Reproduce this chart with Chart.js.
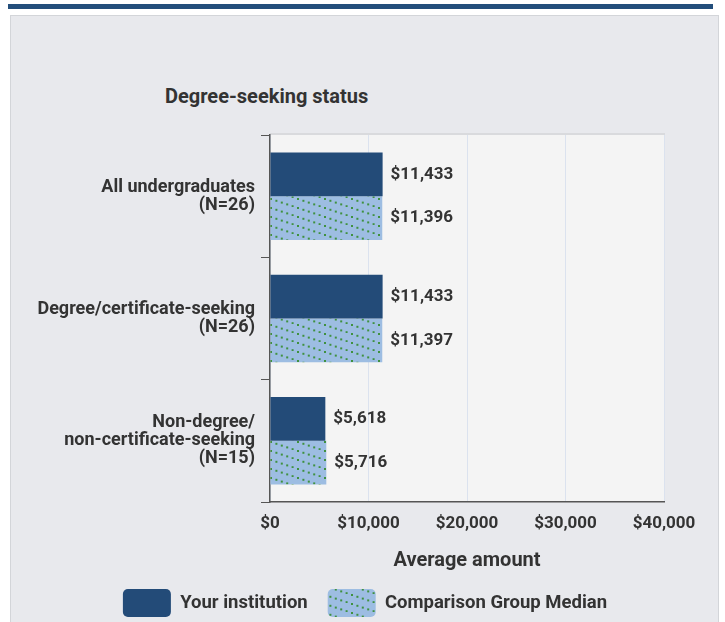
<!DOCTYPE html>
<html>
<head>
<meta charset="utf-8">
<script src="https://cdn.jsdelivr.net/npm/chart.js@4.4.1/dist/chart.umd.min.js"></script>
<style>
  body { margin: 0; background: #fff; width: 725px; height: 622px; overflow: hidden; position: relative; font-family: "Roboto", sans-serif; }
  #topbar { position: absolute; left: 8px; top: 4px; width: 705px; height: 5px; background: #234e7b; }
  #panel { position: absolute; left: 10px; top: 15px; width: 707px; height: 620px; background: #e8e9ed; border: 1px solid #d3d5d9; }
  #title { position: absolute; left: 165px; top: 84px; font-weight: bold; font-size: 20px; color: #333; }
  #wrap { position: absolute; left: 0; top: 0; width: 725px; height: 622px; }
</style>
</head>
<body>
<div id="topbar"></div>
<div id="panel"></div>
<div id="title">Degree-seeking status</div>
<div id="wrap"><canvas id="chart"></canvas></div>
<script>
// data
const categories = [
    ["All undergraduates", "(N=26)"],
    ["Degree/certificate-seeking", "(N=26)"],
    ["Non-degree/", "non-certificate-seeking", "(N=15)"]
];
const seriesNames = ["Your institution", "Comparison Group Median"];
const institutionValues = [11433, 11433, 5618];
const comparisonValues = [11396, 11397, 5716];
const xTicks = [0, 10000, 20000, 30000, 40000];

const FONT = "'Roboto', sans-serif";
const TEXT = "#333333";

function money(v) {
    return "$" + Number(v).toLocaleString("en-US");
}

// light blue with green dotted diagonal lines
function makeHatch() {
    const c = document.createElement("canvas");
    c.width = 27;
    c.height = 9;
    const ctx = c.getContext("2d");
    ctx.fillStyle = "#9dbde2";
    ctx.fillRect(0, 0, 27, 9);
    ctx.fillStyle = "#3f913f";
    for (let x = 0; x < 27; x += 5.4) {
        ctx.fillRect(x, x / 3, 2, 2);
    }
    return ctx.createPattern(c, "repeat");
}

const plotBg = {
    id: "plotBg",
    afterLayout(chart) {
        // center the legend under the panel, not the plot
        chart.legend.left = 66;
    },
    beforeDraw(chart) {
        const a = chart.chartArea;
        const ctx = chart.ctx;
        ctx.save();
        ctx.fillStyle = "#f4f4f4";
        ctx.fillRect(a.left, a.top, a.right - a.left, a.bottom - a.top);
        ctx.strokeStyle = "#d9dadd";
        ctx.lineWidth = 2;
        ctx.beginPath();
        ctx.moveTo(a.left, a.top - 1);
        ctx.lineTo(a.right + 1, a.top - 1);
        ctx.stroke();
        ctx.restore();
    }
};

const valueLabels = {
    id: "valueLabels",
    afterDatasetsDraw(chart) {
        const ctx = chart.ctx;
        ctx.save();
        ctx.font = "bold 17px " + FONT;
        ctx.fillStyle = TEXT;
        ctx.textBaseline = "middle";
        chart.data.datasets.forEach((ds, i) => {
            chart.getDatasetMeta(i).data.forEach((bar, j) => {
                ctx.fillText(money(ds.data[j]), bar.x + 8, bar.y);
            });
        });
        ctx.restore();
    }
};

const config = {
    type: "bar",
    data: {
        labels: categories,
        datasets: [{
            label: seriesNames[0],
            data: institutionValues,
            backgroundColor: "#234b78",
            borderWidth: 0,
            categoryPercentage: 0.715,
            barPercentage: 1
        }, {
            label: seriesNames[1],
            data: comparisonValues,
            backgroundColor: makeHatch(),
            borderWidth: 0,
            categoryPercentage: 0.715,
            barPercentage: 1
        }]
    },
    options: {
        indexAxis: "y",
        responsive: false,
        animation: false,
        layout: { padding: { left: 0, right: 61, top: 135, bottom: 0 } },
        scales: {
            x: {
                min: 0,
                max: 40000,
                afterBuildTicks(scale) {
                    scale.ticks = xTicks.map(v => ({ value: v }));
                },
                afterFit(scale) {
                    // keep the plot bottom at y=502
                    scale.height = 622 - 502 - scale.chart.legend.height;
                },
                grid: { color: "#dbe2ee", drawTicks: false },
                border: { color: "#555", width: 1.5 },
                ticks: {
                    padding: 12,
                    color: TEXT,
                    font: { family: FONT, size: 17, weight: "bold" },
                    callback: v => money(v)
                },
                title: {
                    display: true,
                    text: "Average amount",
                    color: TEXT,
                    font: { family: FONT, size: 20, weight: "bold" },
                    padding: { top: 0, bottom: -4 }
                }
            },
            y: {
                afterFit(scale) { scale.width = 270; },
                grid: { drawOnChartArea: false, drawTicks: true, tickLength: 9, color: "#555", offset: true },
                border: { color: "#555", width: 1.5 },
                ticks: {
                    padding: 6,
                    color: TEXT,
                    font: { family: FONT, size: 18, weight: "bold", lineHeight: 1.0 }
                }
            }
        },
        plugins: {
            legend: {
                position: "bottom",
                maxHeight: 53,
                labels: {
                    boxWidth: 48,
                    boxHeight: 28,
                    useBorderRadius: true,
                    borderRadius: 5,
                    color: TEXT,
                    padding: 20,
                    font: { family: FONT, size: 18.5, weight: "bold" }
                }
            },
            tooltip: { enabled: false }
        }
    },
    plugins: [plotBg, valueLabels]
};

const canvas = document.getElementById("chart");
canvas.width = 725;
canvas.height = 622;
new Chart(canvas, config);
</script>
</body>
</html>
